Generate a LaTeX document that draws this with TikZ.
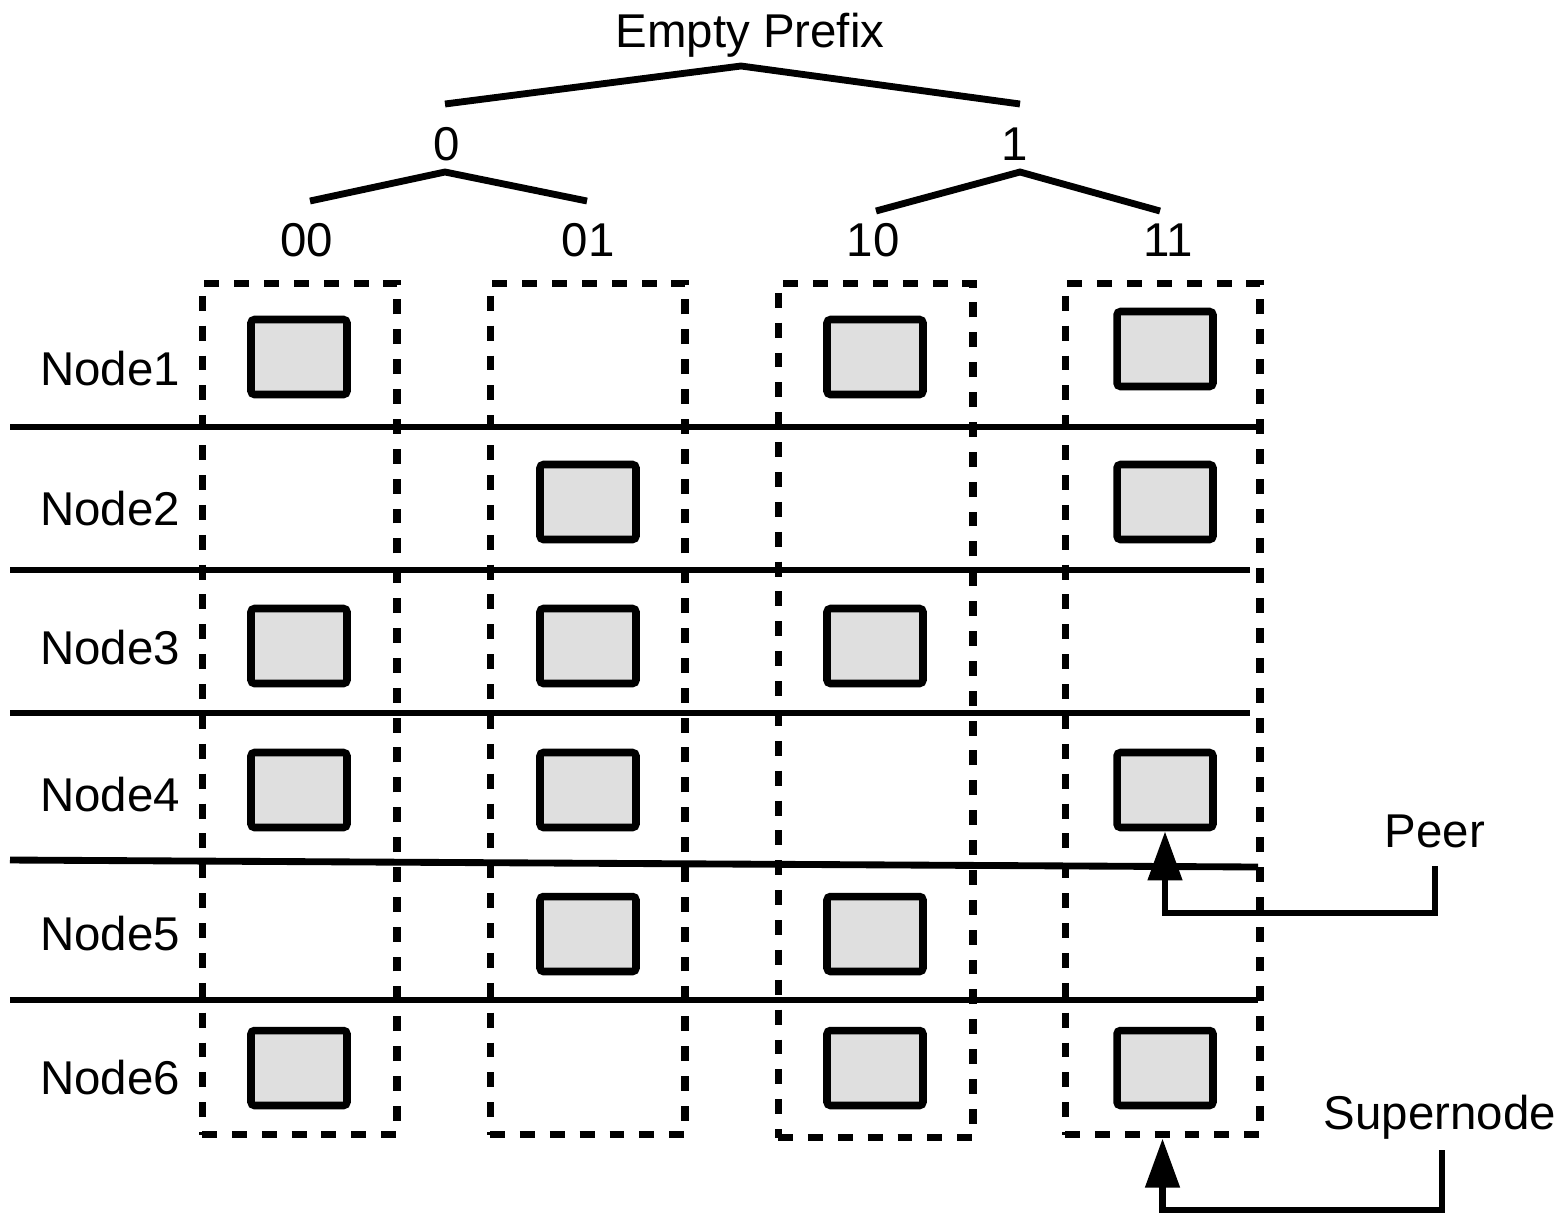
\documentclass[tikz,border=0pt]{standalone}
\usepackage{fontspec}
\setmainfont{Liberation Sans}
\usetikzlibrary{arrows.meta}
\begin{document}
\begin{tikzpicture}[x=0.02cm,y=-0.02cm,
  lbl/.style={font=\fontsize{27}{32}\selectfont, anchor=base, inner sep=0pt},
  thick line/.style={line width=3.9pt},
  cell/.style={draw, line width=4.3pt, fill=gray!25, rounded corners=2pt,
    minimum width=1.92cm, minimum height=1.5cm, inner sep=0pt},
  colbox/.style={draw, line width=4pt, dash pattern=on 8.5pt off 8.5pt,
    minimum width=3.9cm, inner sep=0pt},
  arr/.style={line width=3.9pt, -{Triangle[length=28pt,width=19pt]}}]
\useasboundingbox (0,0) rectangle (1564,1215);

% prefix tree
\node[lbl] (root) at (750,47) {Empty Prefix};
\node[lbl] (p0) at (447,160) {0};
\node[lbl] (p1) at (1015,160) {1};
\node[lbl] (p00) at (307,256) {00};
\node[lbl] (p01) at (588,256) {01};
\node[lbl] (p10) at (873,256) {10};
\node[lbl] (p11) at (1168,256) {11};
\coordinate (rtop) at (741,66);
\coordinate (r0) at (445,104);
\coordinate (r1) at (1020,104);
\coordinate (a0) at (445,172);
\coordinate (a00) at (310,201);
\coordinate (a01) at (587,201);
\coordinate (a1) at (1020,172);
\coordinate (a10) at (876,211);
\coordinate (a11) at (1160,211);
\draw[thick line] (r0) -- (rtop) -- (r1);
\draw[thick line] (a00) -- (a0) -- (a01);
\draw[thick line] (a10) -- (a1) -- (a11);

% row labels
\node[lbl] (n1) at (110,385) {Node1};
\node[lbl] (n2) at (110,525) {Node2};
\node[lbl] (n3) at (110,664) {Node3};
\node[lbl] (n4) at (110,811) {Node4};
\node[lbl] (n5) at (110,950) {Node5};
\node[lbl] (n6) at (110,1094) {Node6};

% row separators
\draw[thick line] (10,427) -- (1258,427);
\draw[thick line] (10,570) -- (1250,570);
\draw[thick line] (10,713) -- (1250,713);
\draw[thick line] (10,860) -- (1258,867);
\draw[thick line] (10,1000) -- (1258,1000);

% prefix groups
\node[colbox, minimum height=17.04cm] (g00) at (299.5,709) {};
\node[colbox, minimum height=17.04cm] (g01) at (587.5,709) {};
\node[colbox, minimum height=17.1cm] (g10) at (875.5,710.5) {};
\node[colbox, minimum height=17.04cm] (g11) at (1162.5,709) {};

% stored items
\node[cell] (c1a) at (299,357) {};
\node[cell] (c1c) at (875,357) {};
\node[cell] (c1d) at (1165,349) {};
\node[cell] (c2b) at (588,502) {};
\node[cell] (c2d) at (1165,502) {};
\node[cell] (c3a) at (299,646) {};
\node[cell] (c3b) at (588,646) {};
\node[cell] (c3c) at (875,646) {};
\node[cell] (c4a) at (299,790) {};
\node[cell] (c4b) at (588,790) {};
\node[cell] (c4d) at (1165,790) {};
\node[cell] (c5b) at (588,934) {};
\node[cell] (c5c) at (875,934) {};
\node[cell] (c6a) at (299,1068) {};
\node[cell] (c6c) at (875,1068) {};
\node[cell] (c6d) at (1165,1068) {};

% callouts
\node[lbl] (peer) at (1435,847) {Peer};
\node[lbl] (super) at (1440,1129) {Supernode};
\coordinate (peerfoot) at (1435,866);
\coordinate (peerbend) at (1435,913);
\coordinate (superfoot) at (1442,1150);
\coordinate (superbend) at (1442,1210);
\draw[arr] (peerfoot) -- (peerbend) -| (c4d.south);
\draw[arr] (superfoot) -- (superbend) -| (g11.south);
\end{tikzpicture}
\end{document}
